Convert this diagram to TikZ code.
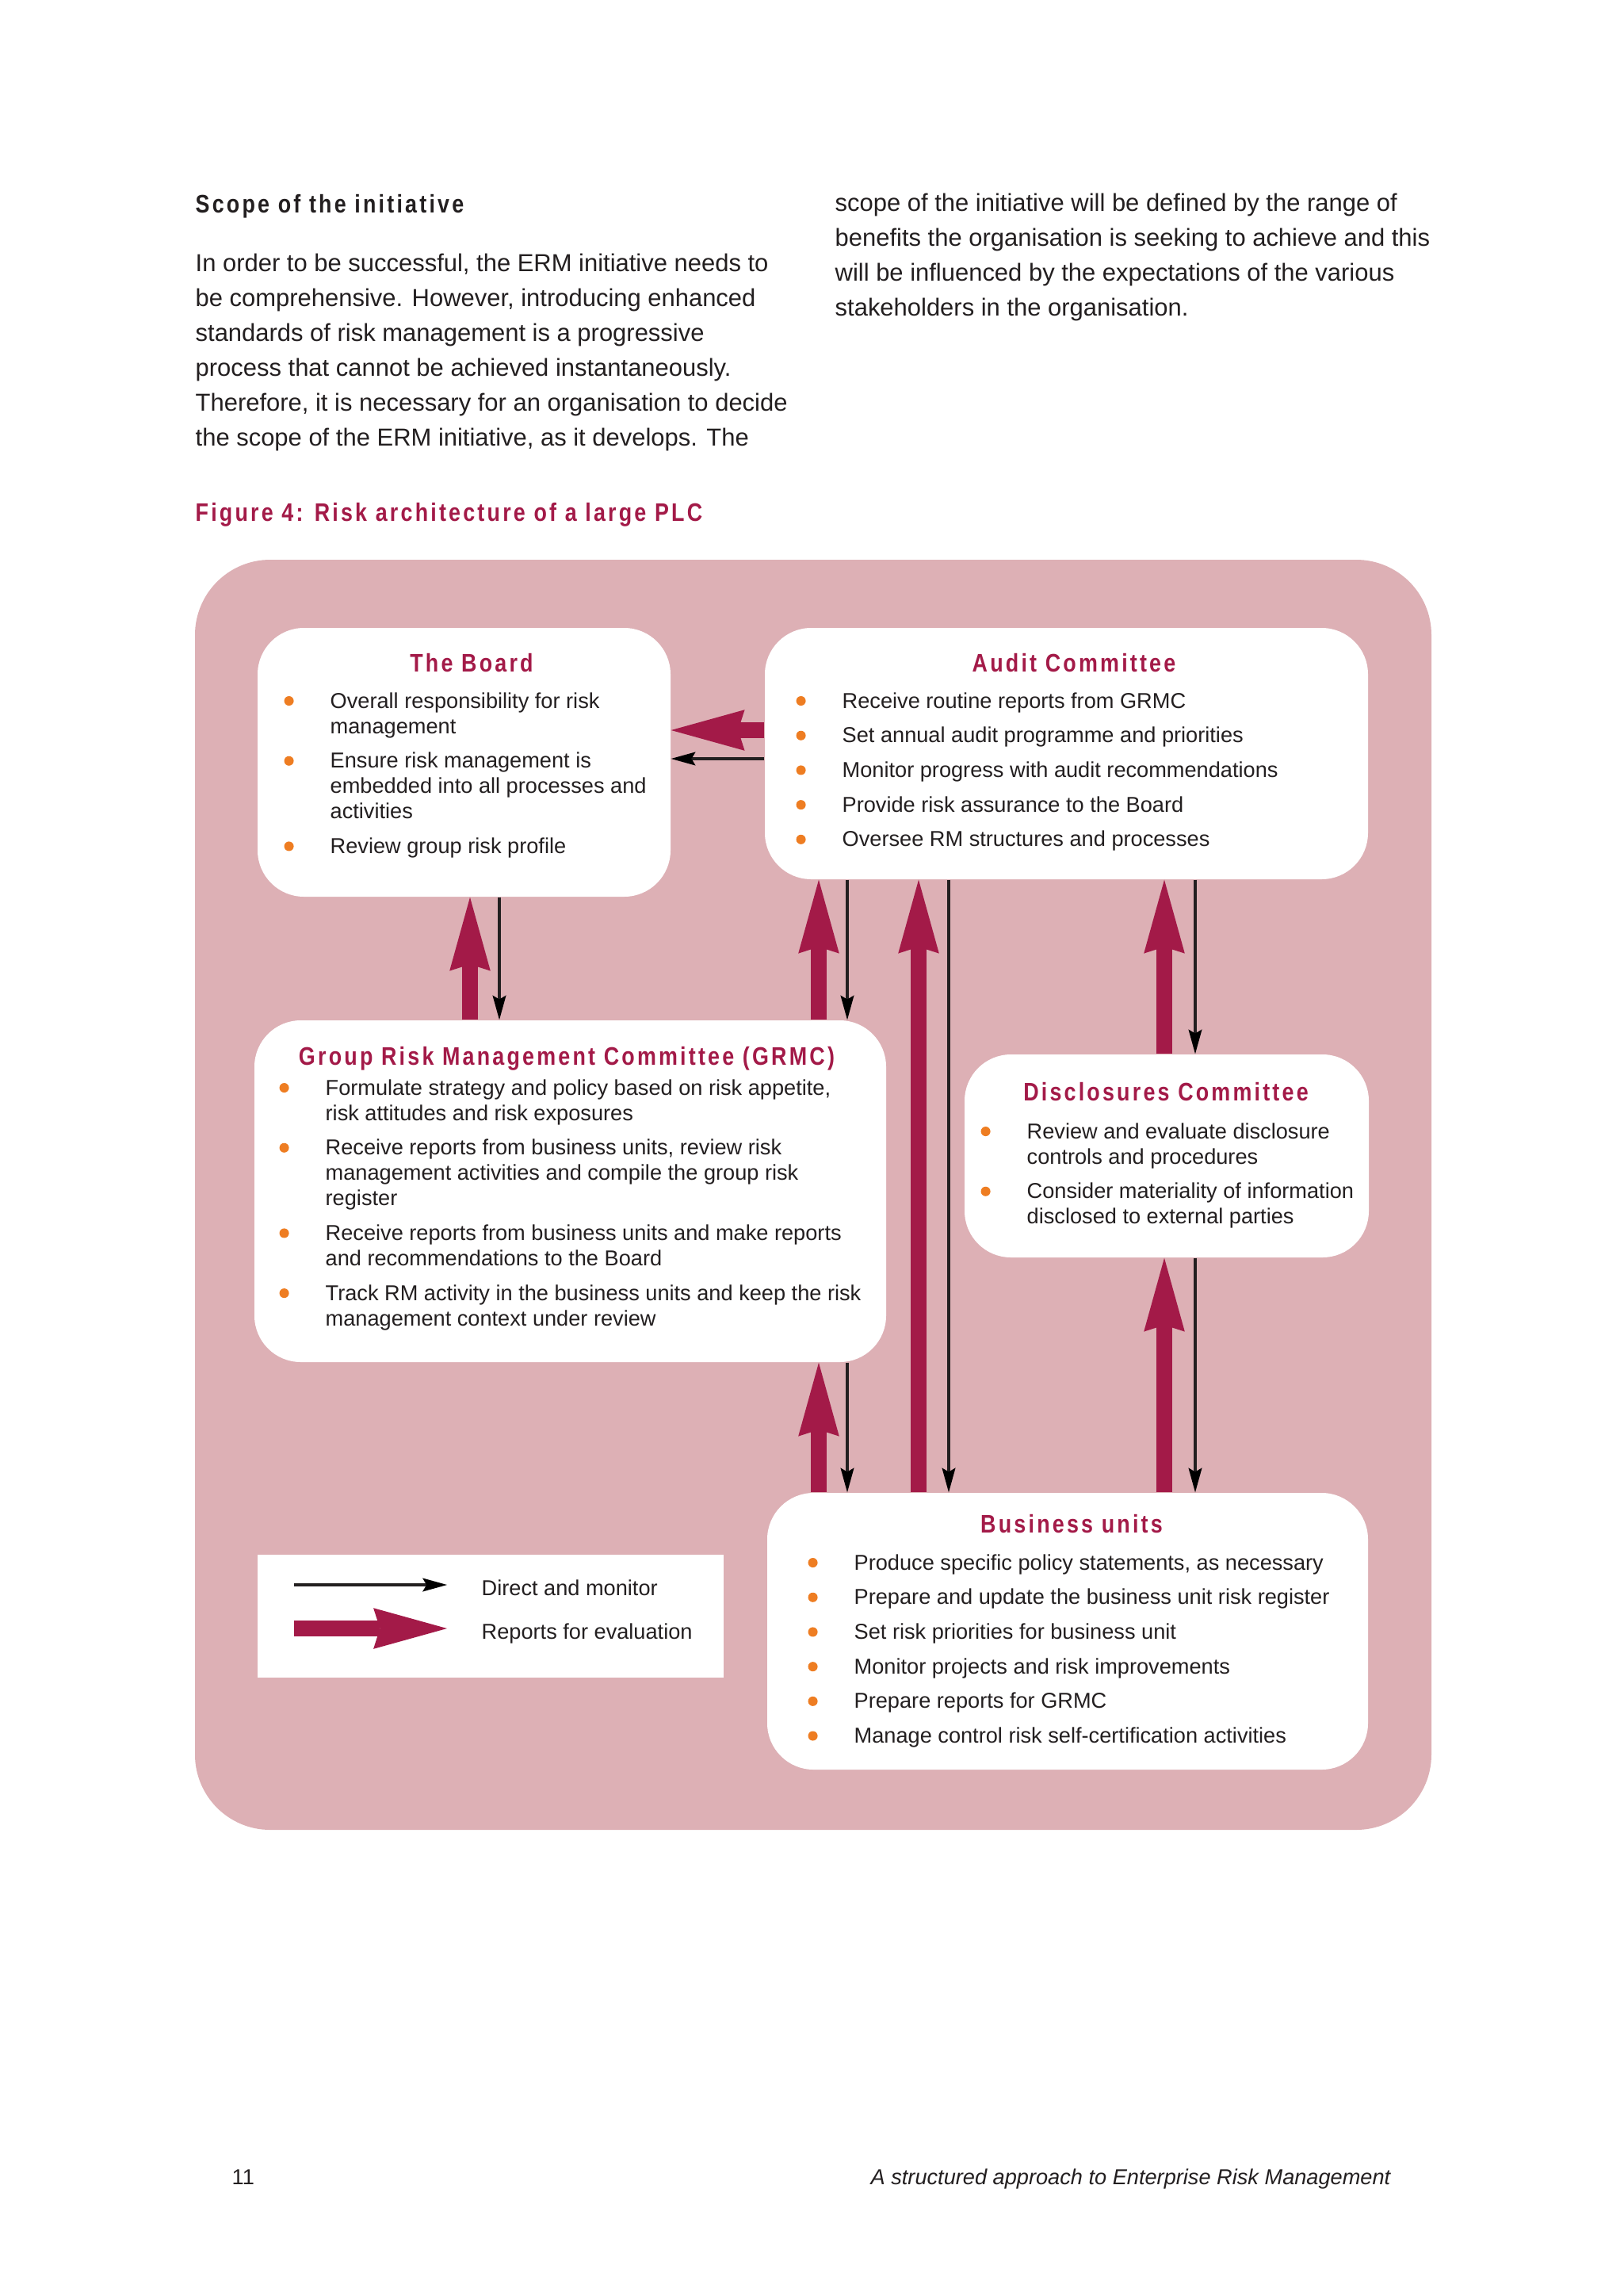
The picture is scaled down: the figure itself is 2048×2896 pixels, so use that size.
\documentclass[tikz,border=0pt]{standalone}
\usepackage{fontspec}
\setmainfont{Liberation Sans}
\newfontfamily\headfont[FakeStretch=0.84,LetterSpace=10]{Liberation Sans}
\usepackage{xcolor}
\usepackage{tikz}
\usetikzlibrary{arrows.meta,fit}
\definecolor{frame}{HTML}{DDB0B5}
\definecolor{wine}{HTML}{A31A48}
\definecolor{ink}{HTML}{231F20}
\definecolor{dotc}{HTML}{EE7D22}
\newcommand{\bul}{\llap{\tikz[baseline={(0pt,0pt)}]\fill[dotc] (0pt,2.6pt) circle (1.75pt);\hspace{13.4pt}}}
\newcommand{\textrows}[1]{\begin{tabular}[t]{@{}l@{}}#1\end{tabular}}
\tikzset{
  panel/.style={fill=white, rounded corners=17pt, inner sep=0pt},
  boxtitle/.style={font=\headfont\bfseries\fontsize{9.3}{11}\selectfont, text=wine, inner sep=0pt, anchor=base},
  sechead/.style={font=\headfont\bfseries\fontsize{9.3}{11}\selectfont, inner sep=0pt, anchor=base west},
  bullets/.style={font=\fontsize{7.9}{9.3}\selectfont, text=ink, inner sep=0pt, anchor=base west},
  para/.style={font=\fontsize{9}{12.8}\selectfont, text=ink, inner sep=0pt, anchor=base west},
  report/.style={draw=wine, line width=5.8pt, -{Stealth[length=27pt,width=15pt,inset=2.4pt,line width=0pt]}},
  monitor/.style={draw=ink, line width=1pt, -{Stealth[length=9pt,width=5pt,inset=1.5pt,line width=0pt]}}
}

\begin{document}
\begin{tikzpicture}[x=0.29066pt, y=-0.29066pt]
  \fill[white] (0,0) rectangle (2048,2896);
  \useasboundingbox (0,0) rectangle (2048,2896);

  % page text
  \node[sechead, text=ink] (scope) at (246,268) {Scope of the initiative};
  \node[para] (leftcol) at (246,342) {\textrows{In order to be successful, the ERM initiative needs to\\
    be comprehensive. However, introducing enhanced\\
    standards of risk management is a progressive\\
    process that cannot be achieved instantaneously.\\
    Therefore, it is necessary for an organisation to decide\\
    the scope of the ERM initiative, as it develops. The}};
  \node[para] (rightcol) at (1053,266) {\textrows{scope of the initiative will be defined by the range of\\
    benefits the organisation is seeking to achieve and this\\
    will be influenced by the expectations of the various\\
    stakeholders in the organisation.}};
  \node[sechead, text=wine] (figtitle) at (246,657) {Figure 4: Risk architecture of a large PLC};

  \fill[frame, rounded corners=27.6pt] (246,706) rectangle (1806,2308);

  \node[panel, fit={(325,792) (846,1131)}] (board) {};
  \node[panel, fit={(965,792) (1726,1109)}] (audit) {};
  \node[panel, fit={(321,1287) (1118,1718)}] (grmc) {};
  \node[panel, fit={(1217,1330) (1727,1586)}] (disc) {};
  \node[panel, fit={(968,1883) (1726,2232)}] (bu) {};
  \node[fill=white, inner sep=0pt, fit={(325,1961) (913,2116)}] (legend) {};

  \node[boxtitle] (boardT) at (595,847) {The Board};
  \node[bullets] (boardL) at (416,893) {\textrows{\bul Overall responsibility for risk\\management\\[3.4pt]
    \bul Ensure risk management is\\embedded into all processes and\\activities\\[3.4pt]
    \bul Review group risk profile}};

  \node[boxtitle] (auditT) at (1355,847) {Audit Committee};
  \node[bullets] (auditL) at (1062,893) {\textrows{\bul Receive routine reports from GRMC\\[3.4pt]
    \bul Set annual audit programme and priorities\\[3.4pt]
    \bul Monitor progress with audit recommendations\\[3.4pt]
    \bul Provide risk assurance to the Board\\[3.4pt]
    \bul Oversee RM structures and processes}};

  \node[boxtitle] (grmcT) at (715,1343) {Group Risk Management Committee (GRMC)};
  \node[bullets] (grmcL) at (410,1381) {\textrows{\bul Formulate strategy and policy based on risk appetite,\\risk attitudes and risk exposures\\[3.4pt]
    \bul Receive reports from business units, review risk\\management activities and compile the group risk\\register\\[3.4pt]
    \bul Receive reports from business units and make reports\\and recommendations to the Board\\[3.4pt]
    \bul Track RM activity in the business units and keep the risk\\management context under review}};

  \node[boxtitle] (discT) at (1471,1388) {Disclosures Committee};
  \node[bullets] (discL) at (1295,1436) {\textrows{\bul Review and evaluate disclosure\\controls and procedures\\[3.4pt]
    \bul Consider materiality of information\\disclosed to external parties}};

  \node[boxtitle] (buT) at (1352,1933) {Business units};
  \node[bullets] (buL) at (1077,1980) {\textrows{\bul Produce specific policy statements, as necessary\\[3.4pt]
    \bul Prepare and update the business unit risk register\\[3.4pt]
    \bul Set risk priorities for business unit\\[3.4pt]
    \bul Monitor projects and risk improvements\\[3.4pt]
    \bul Prepare reports for GRMC\\[3.4pt]
    \bul Manage control risk self-certification activities}};

  % lanes
  \coordinate (lA) at (593,0);
  \coordinate (lB) at (630,0);
  \coordinate (lC) at (1033,0);
  \coordinate (lD) at (1069,0);
  \coordinate (lE) at (1159,0);
  \coordinate (lF) at (1197,0);
  \coordinate (lG) at (1469,0);
  \coordinate (lH) at (1508,0);
  \coordinate (rA) at (0,921);
  \coordinate (rB) at (0,957);

  \draw[report] (audit.west |- rA) -- (board.east |- rA);
  \draw[monitor] (audit.west |- rB) -- (board.east |- rB);
  \draw[report] (grmc.north -| lA) -- (board.south -| lA);
  \draw[monitor] (board.south -| lB) -- (grmc.north -| lB);
  \draw[report] (grmc.north -| lC) -- (audit.south -| lC);
  \draw[monitor] (audit.south -| lD) -- (grmc.north -| lD);
  \draw[report] (bu.north -| lE) -- (audit.south -| lE);
  \draw[monitor] (audit.south -| lF) -- (bu.north -| lF);
  \draw[report] (disc.north -| lG) -- (audit.south -| lG);
  \draw[monitor] (audit.south -| lH) -- (disc.north -| lH);
  \draw[report] (bu.north -| lC) -- (grmc.south -| lC);
  \draw[monitor] (grmc.south -| lD) -- (bu.north -| lD);
  \draw[report] (bu.north -| lG) -- (disc.south -| lG);
  \draw[monitor] (disc.south -| lH) -- (bu.north -| lH);

  % legend
  \coordinate (keyA) at (371,1999);
  \coordinate (keyB) at (564,1999);
  \coordinate (keyC) at (371,2054);
  \coordinate (keyD) at (564,2054);
  \draw[monitor] (keyA) -- (keyB);
  \draw[report] (keyC) -- (keyD);
  \node[bullets] (keyT1) at (607,2012) {Direct and monitor};
  \node[bullets] (keyT2) at (607,2067) {Reports for evaluation};

  % footer
  \node[bullets] (pageno) at (292,2755) {11};
  \node[bullets, anchor=base east] (runhead) at (1755,2755) {\itshape A structured approach to Enterprise Risk Management};
\end{tikzpicture}
\end{document}
